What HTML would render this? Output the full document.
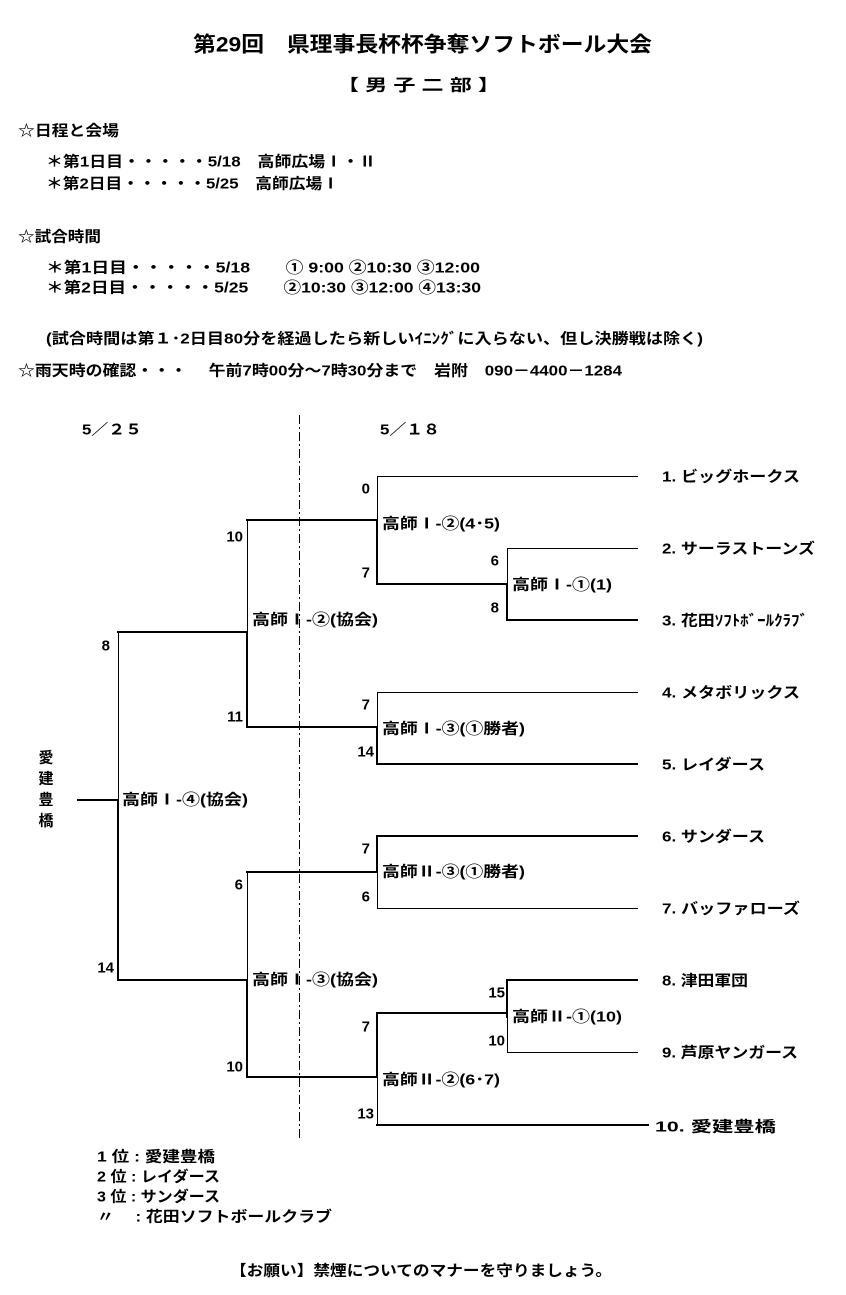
<!DOCTYPE html>
<html><head><meta charset="utf-8"><style>
html,body{margin:0;padding:0;background:#fff;width:846px;height:1295px;overflow:hidden}
svg{display:block}
text{font-family:"Liberation Sans","Noto Sans CJK JP",sans-serif;font-weight:bold;fill:#000;dominant-baseline:central}
</style></head><body>
<svg width="846" height="1295" viewBox="0 0 846 1295" xmlns="http://www.w3.org/2000/svg">
<g font-size="15" lengthAdjust="spacingAndGlyphs">
<text x="193" y="45" font-size="21" textLength="459" lengthAdjust="spacingAndGlyphs">第29回　県理事長杯杯争奪ソフトボール大会</text>
<text x="337" y="86" font-size="16" textLength="163" lengthAdjust="spacingAndGlyphs">【 男 子 二 部 】</text>
<text x="18" y="131" textLength="101" lengthAdjust="spacingAndGlyphs">☆日程と会場</text>
<text x="46" y="162" textLength="330" lengthAdjust="spacingAndGlyphs">＊第1日目・・・・・5/18　高師広場Ⅰ・Ⅱ</text>
<text x="46" y="184" textLength="293" lengthAdjust="spacingAndGlyphs">＊第2日目・・・・・5/25　高師広場Ⅰ</text>
<text x="18" y="237" textLength="83" lengthAdjust="spacingAndGlyphs">☆試合時間</text>
<text x="46" y="268" textLength="434" lengthAdjust="spacingAndGlyphs">＊第1日目・・・・・5/18　　① 9:00 ②10:30 ③12:00</text>
<text x="46" y="288" textLength="435" lengthAdjust="spacingAndGlyphs">＊第2日目・・・・・5/25　　②10:30 ③12:00 ④13:30</text>
<text x="46" y="339" textLength="657" lengthAdjust="spacingAndGlyphs">(試合時間は第１･2日目80分を経過したら新しいｲﾆﾝｸﾞに入らない、但し決勝戦は除く)</text>
<text x="18" y="371" textLength="604" lengthAdjust="spacingAndGlyphs">☆雨天時の確認・・・　 午前7時00分～7時30分まで　岩附　090－4400－1284</text>
<text x="82" y="430" font-weight="normal" textLength="60" lengthAdjust="spacingAndGlyphs">5／２５</text>
<text x="380" y="430" font-weight="normal" textLength="60" lengthAdjust="spacingAndGlyphs">5／１８</text>
</g>
<line x1="299.5" y1="415" x2="299.5" y2="1140" stroke="#000" stroke-width="1" stroke-dasharray="9,3,2,3"/>

<g stroke="#000" fill="none" stroke-linecap="square">
<g stroke-width="1" transform="translate(0.5,0.5)">
<line x1="377" y1="476" x2="637" y2="476"/>
<line x1="377" y1="476" x2="377" y2="520"/>
<line x1="507" y1="548" x2="637" y2="548"/>
<line x1="507" y1="548" x2="507" y2="584"/>
<line x1="247" y1="520" x2="247" y2="632"/>
<line x1="377" y1="692" x2="637" y2="692"/>
<line x1="377" y1="692" x2="377" y2="727"/>
<line x1="118" y1="632" x2="118" y2="800"/>
<line x1="377" y1="908" x2="637" y2="908"/>
<line x1="377" y1="872" x2="377" y2="908"/>
<line x1="247" y1="872" x2="247" y2="980"/>
<line x1="507" y1="1052" x2="637" y2="1052"/>
<line x1="507" y1="1017" x2="507" y2="1052"/>
<line x1="377" y1="1077" x2="377" y2="1125"/>
</g>
<g stroke-width="2">
<line x1="377" y1="584" x2="507" y2="584"/>
<line x1="377" y1="520" x2="377" y2="584"/>
<line x1="247" y1="520" x2="377" y2="520"/>
<line x1="507" y1="584" x2="507" y2="620"/>
<line x1="507" y1="620" x2="637" y2="620"/>
<line x1="247" y1="632" x2="247" y2="727"/>
<line x1="118" y1="632" x2="247" y2="632"/>
<line x1="247" y1="727" x2="377" y2="727"/>
<line x1="377" y1="727" x2="377" y2="764"/>
<line x1="377" y1="764" x2="637" y2="764"/>
<line x1="78" y1="800" x2="118" y2="800"/>
<line x1="118" y1="800" x2="118" y2="980"/>
<line x1="118" y1="980" x2="247" y2="980"/>
<line x1="377" y1="836" x2="637" y2="836"/>
<line x1="377" y1="836" x2="377" y2="872"/>
<line x1="247" y1="872" x2="377" y2="872"/>
<line x1="247" y1="980" x2="247" y2="1077"/>
<line x1="247" y1="1077" x2="377" y2="1077"/>
<line x1="377" y1="1013" x2="377" y2="1077"/>
<line x1="377" y1="1013" x2="507" y2="1013"/>
<line x1="507" y1="980" x2="507" y2="1017"/>
<line x1="507" y1="980" x2="637" y2="980"/>
<line x1="377" y1="1125" x2="648" y2="1125"/>
</g>
</g>

<g font-size="15">
<g text-anchor="end" font-weight="normal">
<text x="370" y="489">0</text><text x="370" y="573">7</text>
<text x="243" y="537">10</text><text x="243" y="717">11</text>
<text x="499" y="561">6</text><text x="499" y="608">8</text>
<text x="370" y="705">7</text><text x="374" y="752">14</text>
<text x="110" y="646">8</text><text x="114" y="968">14</text>
<text x="370" y="849">7</text><text x="370" y="897">6</text>
<text x="243" y="885">6</text><text x="243" y="1067">10</text>
<text x="505" y="993">15</text><text x="505" y="1041">10</text>
<text x="370" y="1027">7</text><text x="374" y="1114">13</text>
</g>
<text x="382" y="524" textLength="118" lengthAdjust="spacingAndGlyphs">高師Ⅰ-②(4･5)</text>
<text x="512" y="585" textLength="100" lengthAdjust="spacingAndGlyphs">高師Ⅰ-①(1)</text>
<text x="252" y="620" textLength="126" lengthAdjust="spacingAndGlyphs">高師Ⅰ-②(協会)</text>
<text x="382" y="729" textLength="143" lengthAdjust="spacingAndGlyphs">高師Ⅰ-③(①勝者)</text>
<text x="122" y="800" textLength="126" lengthAdjust="spacingAndGlyphs">高師Ⅰ-④(協会)</text>
<text x="382" y="872" textLength="143" lengthAdjust="spacingAndGlyphs">高師Ⅱ-③(①勝者)</text>
<text x="252" y="980" textLength="126" lengthAdjust="spacingAndGlyphs">高師Ⅰ-③(協会)</text>
<text x="512" y="1017" textLength="110" lengthAdjust="spacingAndGlyphs">高師Ⅱ-①(10)</text>
<text x="382" y="1080" textLength="118" lengthAdjust="spacingAndGlyphs">高師Ⅱ-②(6･7)</text>
<text x="46" y="758" text-anchor="middle">愛</text>
<text x="46" y="779" text-anchor="middle">建</text>
<text x="46" y="800" text-anchor="middle">豊</text>
<text x="46" y="821" text-anchor="middle">橋</text>
<text x="662" y="477" textLength="138" lengthAdjust="spacingAndGlyphs">1. ビッグホークス</text>
<text x="662" y="549" textLength="153" lengthAdjust="spacingAndGlyphs">2. サーラストーンズ</text>
<text x="662" y="621" textLength="146" lengthAdjust="spacingAndGlyphs">3. 花田ｿﾌﾄﾎﾞｰﾙｸﾗﾌﾞ</text>
<text x="662" y="693" textLength="138" lengthAdjust="spacingAndGlyphs">4. メタボリックス</text>
<text x="662" y="765" textLength="103" lengthAdjust="spacingAndGlyphs">5. レイダース</text>
<text x="662" y="837" textLength="103" lengthAdjust="spacingAndGlyphs">6. サンダース</text>
<text x="662" y="909" textLength="138" lengthAdjust="spacingAndGlyphs">7. バッファローズ</text>
<text x="662" y="981" textLength="86" lengthAdjust="spacingAndGlyphs">8. 津田軍団</text>
<text x="662" y="1053" textLength="136" lengthAdjust="spacingAndGlyphs">9. 芦原ヤンガース</text>
<text x="655" y="1127" textLength="121" lengthAdjust="spacingAndGlyphs">10. 愛建豊橋</text>
<text x="97" y="1157" textLength="118" lengthAdjust="spacingAndGlyphs">1 位 : 愛建豊橋</text>
<text x="97" y="1177" textLength="123" lengthAdjust="spacingAndGlyphs">2 位 : レイダース</text>
<text x="97" y="1197" textLength="123" lengthAdjust="spacingAndGlyphs">3 位 : サンダース</text>
<text x="97" y="1217" textLength="235" lengthAdjust="spacingAndGlyphs">〃　 : 花田ソフトボールクラブ</text>
<text x="230" y="1271" textLength="382" lengthAdjust="spacingAndGlyphs">【お願い】禁煙についてのマナーを守りましょう。</text>
</g>
</svg>
</body></html>
